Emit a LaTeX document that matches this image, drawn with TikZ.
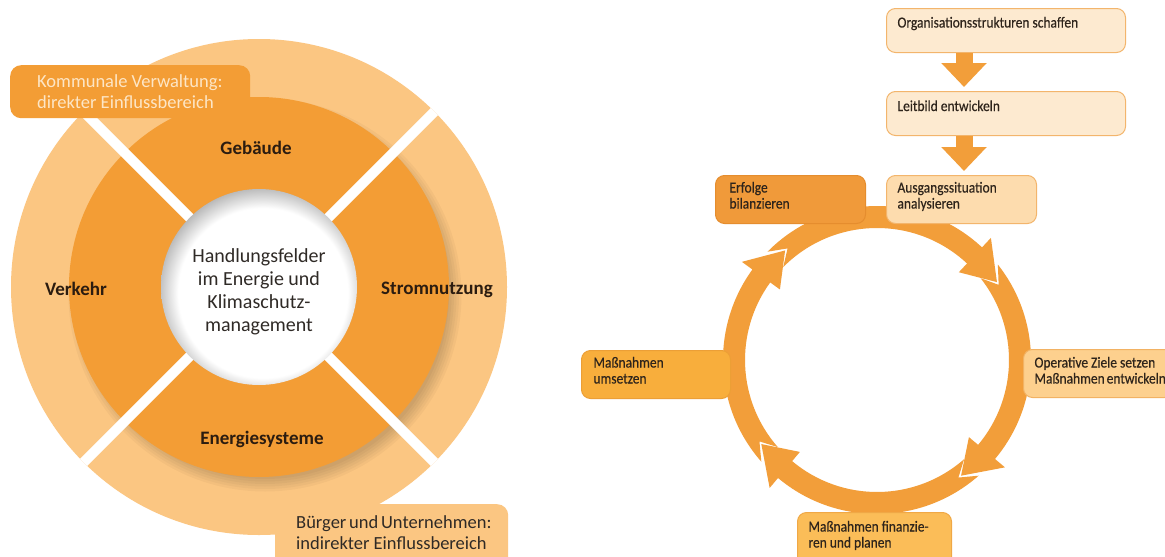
\documentclass[tikz,border=0pt]{standalone}
\usepackage{fontspec}
\setmainfont{Carlito}
\newfontfamily\rfont[FakeStretch=0.88, FakeBold=0.4]{Carlito}
\usetikzlibrary{arrows.meta,calc}
\definecolor{lring}{HTML}{FBC682}
\definecolor{dring}{HTML}{F39D35}
\definecolor{kcream}{HTML}{FDE6C6}
\definecolor{ltxt}{HTML}{2F2A26}
\definecolor{btxt}{HTML}{2B1C10}
\definecolor{cycc}{HTML}{F29E3A}
\definecolor{boxa}{HTML}{FDEAD0}
\definecolor{boxaline}{HTML}{F3B56C}
\definecolor{boxb}{HTML}{FDDCAE}
\definecolor{boxc}{HTML}{F09A3A}
\definecolor{boxcline}{HTML}{E58D2E}
\definecolor{boxd}{HTML}{F8AE3C}
\definecolor{boxdline}{HTML}{EC9F36}
\definecolor{boxe}{HTML}{FDD08E}
\definecolor{boxeline}{HTML}{F2B263}
\definecolor{boxf}{HTML}{FBBD58}
\definecolor{boxfline}{HTML}{F0A846}
\definecolor{rtxt}{HTML}{2E241B}
\newcommand{\tline}[1]{\hbox to \tbw{\strut#1\hfil}}
\newcommand{\tblock}[3]{\def\tbw{#1}\vtop to #2{#3\vss}}
\newcommand{\cycseg}[2]{%
  \fill[cycc] ({#1-5.3}:154) arc[start angle={#1-5.3}, end angle={#2-14}, radius=154]
    -- ({#2-14}:167) -- (#2:143) -- ({#2-14}:120) -- ({#2-14}:132)
    arc[start angle={#2-14}, end angle={#1-5.3}, radius=132] -- ({#1+1.3}:143) -- cycle;}
\pgfdeclareradialshading{innershade}{\pgfpoint{0bp}{0bp}}{color(0bp)=(white); color(20bp)=(white); color(25bp)=(black!28); color(50bp)=(black!28)}
\tikzset{
  lbl/.style={font=\fontsize{19}{22}\selectfont\bfseries, text=btxt, inner sep=0pt},
  kbox/.style={fill=dring, rounded corners=11pt, anchor=north west, text=kcream,
    font=\fontsize{18.5}{21}\selectfont, inner xsep=27pt, inner ysep=7.8pt},
  bbox/.style={fill=lring, rounded corners=11pt, anchor=north west, text=ltxt,
    font=\fontsize{18.5}{21}\selectfont, inner xsep=21pt, inner ysep=9.8pt},
  rbox/.style={rounded corners=9pt, line width=1pt, anchor=north west, text=rtxt,
    font=\rfont\fontsize{15.3}{16}\selectfont, inner xsep=11pt},
  blockarrow/.style={draw=cycc, line width=17pt, -{Triangle[width=44pt,length=24pt]}},
}
\begin{document}
\begin{tikzpicture}[x=1pt,y=-1pt]
\useasboundingbox (0,0) rectangle (1165,557);
\fill[white] (0,0) rectangle (1165,557);
% ---------------- left diagram
\coordinate (c) at (259,287);
\fill[lring] (c) circle (248);
\foreach \i in {0,...,5}
  \fill[black,opacity=0.03] ($(c)+(6,8)$) circle ({184+2.5*\i});
\fill[dring] (c) circle (190);
\begin{scope}
  \clip (c) circle (248);
  \draw[white, line width=10pt] ($(c)+(-250,-250)$) -- ($(c)+(250,250)$)
    ($(c)+(-250,250)$) -- ($(c)+(250,-250)$);
\end{scope}
\begin{scope}
  \clip (c) circle (98);
  \shade[shading=innershade] ($(c)+(4,6)$) circle (106);
\end{scope}
\node[lbl] (geb) at (256,148) {Gebäude};
\node[lbl] (ver) at (76,289) {Verkehr};
\node[lbl] (str) at (437,290) {Stromnutzung};
\node[lbl] (ene) at (262,439) {Energiesysteme};
\node[align=center, font=\fontsize{20}{23}\selectfont, text=ltxt] (hf) at (259,292)
  {Handlungsfelder\\im Energie und\\Klimaschutz-\\management};
\node[kbox] (komm) at (10,65)
  {\tblock{186pt}{37.4pt}{\tline{Kommunale Verwaltung:}\tline{direkter Einflussbereich}}};
\node[bbox] (bue) at (275,504)
  {\tblock{191pt}{51.4pt}{\tline{Bürger und Unternehmen:}\tline{indirekter Einflussbereich}}};
% ---------------- right diagram
\begin{scope}[shift={(877,360)}]
  \cycseg{-130}{-33}
  \cycseg{-33}{54}
  \cycseg{54}{144}
  \cycseg{144}{230}
\end{scope}
\node[rbox, fill=boxa, draw=boxaline, inner ysep=7.8pt] (org) at (886,8)
  {\tblock{217pt}{28.4pt}{\tline{Organisationsstrukturen schaffen}}};
\node[rbox, fill=boxa, draw=boxaline, inner ysep=8.3pt] (leit) at (886,91)
  {\tblock{217pt}{27.4pt}{\tline{Leitbild entwickeln}}};
\node[rbox, fill=boxb, draw=boxaline, inner ysep=5.8pt] (aus) at (886,175)
  {\tblock{128pt}{36.4pt}{\tline{Ausgangssituation}\tline{analysieren}}};
\node[rbox, fill=boxc, draw=boxcline, inner xsep=14pt, inner ysep=5.8pt] (erf) at (715,175)
  {\tblock{122pt}{36.4pt}{\tline{Erfolge}\tline{bilanzieren}}};
\node[rbox, fill=boxd, draw=boxdline, inner xsep=12pt, inner ysep=5.8pt] (ums) at (581,350)
  {\tblock{125pt}{36.4pt}{\tline{Maßnahmen}\tline{umsetzen}}};
\node[rbox, fill=boxe, draw=boxeline, inner ysep=6.8pt] (ope) at (1023,349)
  {\tblock{128pt}{34.4pt}{\tline{Operative Ziele setzen}\tline{Maßnahmen entwickeln}}};
\node[rbox, fill=boxf, draw=boxfline, inner ysep=7.8pt] (fin) at (797,512)
  {\tblock{132pt}{44.4pt}{\tline{Maßnahmen finanzie-}\tline{ren und planen}}};
\coordinate (ax) at (964,0);
\coordinate (t1) at ([yshift=4pt]leit.north);
\coordinate (t2) at ([yshift=4pt]aus.north);
\draw[blockarrow] (org.south -| ax) -- (t1 -| ax);
\draw[blockarrow] (leit.south -| ax) -- (t2 -| ax);
\end{tikzpicture}
\end{document}
